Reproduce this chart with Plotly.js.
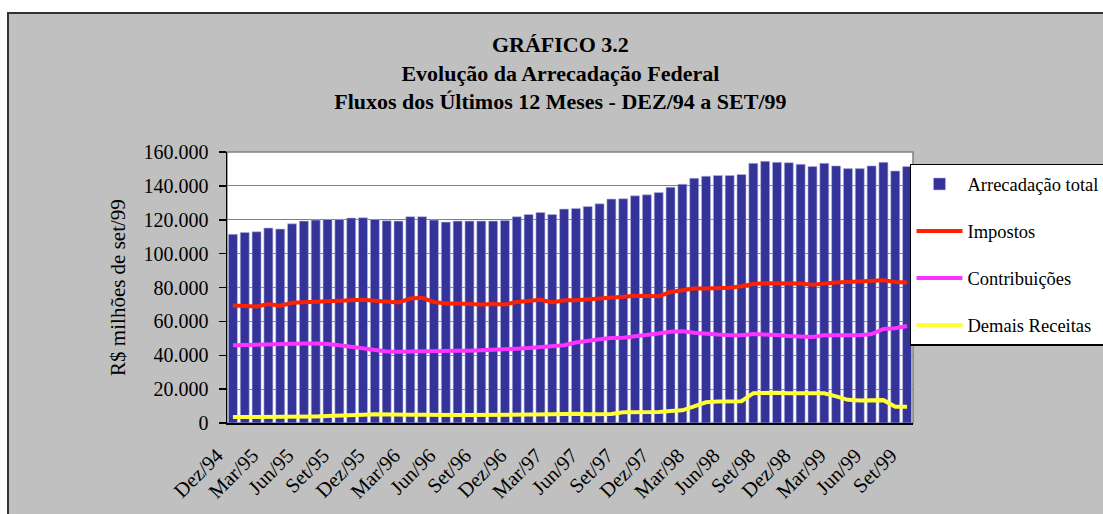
<!DOCTYPE html>
<html>
<head>
<meta charset="utf-8">
<script src="https://cdn.plot.ly/plotly-3.0.1.min.js"></script>
<style>
  html, body { margin: 0; padding: 0; background: #ffffff; overflow: hidden; }
  #frame {
    position: absolute; left: 7px; top: 12px;
    border-left: 2px solid #333333; border-top: 2px solid #333333;
  }
  #chart { width: 1094px; height: 500px; }
</style>
</head>
<body>
<div id="frame"><div id="chart"></div></div>
<script>
// Months, Dez/94 .. Set/99
const months = [
    'Dez/94',
    'Jan/95', 'Fev/95', 'Mar/95', 'Abr/95', 'Mai/95', 'Jun/95', 'Jul/95', 'Ago/95', 'Set/95', 'Out/95', 'Nov/95', 'Dez/95',
    'Jan/96', 'Fev/96', 'Mar/96', 'Abr/96', 'Mai/96', 'Jun/96', 'Jul/96', 'Ago/96', 'Set/96', 'Out/96', 'Nov/96', 'Dez/96',
    'Jan/97', 'Fev/97', 'Mar/97', 'Abr/97', 'Mai/97', 'Jun/97', 'Jul/97', 'Ago/97', 'Set/97', 'Out/97', 'Nov/97', 'Dez/97',
    'Jan/98', 'Fev/98', 'Mar/98', 'Abr/98', 'Mai/98', 'Jun/98', 'Jul/98', 'Ago/98', 'Set/98', 'Out/98', 'Nov/98', 'Dez/98',
    'Jan/99', 'Fev/99', 'Mar/99', 'Abr/99', 'Mai/99', 'Jun/99', 'Jul/99', 'Ago/99', 'Set/99'
];

// R$ milhões de set/99, 12-month flows
const arrecadacaoTotal = [
    111400, 112500, 112900, 115100, 114500, 117600, 119200, 119800, 120200, 120200,
    121000, 121200, 120200, 119400, 119200, 121800, 121800, 119800, 118600, 119200,
    119200, 119200, 119200, 119600, 121800, 123100, 124300, 123100, 126300, 126700,
    127800, 129400, 132200, 132400, 134100, 134700, 136100, 139200, 141000, 144500,
    145700, 146100, 146100, 146700, 153300, 154500, 153900, 153700, 152700, 151400,
    153300, 151800, 150200, 150200, 151800, 153900, 148800, 151400
];
const impostos = [
    69400, 69200, 68800, 70200, 69200, 71000, 71200, 71600, 72000, 72200,
    72500, 72700, 72200, 71800, 71200, 73500, 73900, 71400, 70600, 70600,
    70200, 70000, 70200, 70000, 71400, 72200, 72700, 71200, 72400, 72500,
    72900, 73700, 73900, 74500, 75100, 75100, 74900, 77300, 78600, 79400,
    79400, 79600, 79800, 80800, 82000, 82500, 82500, 82500, 82400, 81600,
    82500, 82900, 83300, 83700, 84100, 84300, 83300, 82900
];
const contribuicoes = [
    45900, 46100, 46300, 46700, 46900, 46900, 46900, 46900, 46700, 45900,
    44900, 43900, 43100, 42200, 42000, 42200, 42500, 42700, 42700, 42700,
    42700, 42900, 43300, 43700, 43900, 44300, 44700, 45300, 45900, 47500,
    48200, 49400, 50200, 50400, 51200, 51800, 52900, 53900, 54100, 53300,
    52500, 52200, 51800, 51800, 52500, 52500, 52000, 51400, 51000, 50800,
    51800, 51800, 51800, 51800, 52500, 55500, 55900, 57300
];
const demaisReceitas = [
    3500, 3500, 3500, 3500, 3500, 3500, 3700, 3900, 4100, 4500,
    4900, 4900, 5100, 4900, 4900, 4900, 4900, 4700, 4700, 4700,
    4700, 4700, 4700, 4700, 4700, 4700, 4900, 5100, 5300, 5500,
    5100, 5100, 5300, 6300, 6300, 6300, 6500, 7100, 7500, 9800,
    12200, 12700, 12900, 12900, 17600, 17800, 17800, 17600, 17600, 17600,
    17500, 15700, 13700, 13300, 13300, 13500, 9600, 9600
];

const yTicks = [0, 20000, 40000, 60000, 80000, 100000, 120000, 140000, 160000];

// every third month gets a label, tick marks sit on the boundaries
const labelIdx = months.map((m, i) => i).filter(i => i % 3 === 0);
const labelVals = labelIdx.map(i => months[i]);
const boundaryVals = labelIdx.map(i => i - 0.5);

const font = 'Liberation Serif, Times New Roman, serif';

const lineTrace = (name, y, color, group) => ({
    x: months, y: y,
    type: 'scatter',
    mode: 'lines',
    name: name,
    legendgroup: group,
    line: { color: color, width: 4 },
    hoverinfo: 'skip'
});

const traces = [
    {
        x: months, y: arrecadacaoTotal,
        type: 'bar',
        name: 'Arrecadação total',
        legendgroup: 'g1',
        marker: { color: '#333399', line: { color: '#b8b8e0', width: 0.6 } },
        hoverinfo: 'skip'
    },
    lineTrace('Impostos', impostos, '#ff2200', 'g2'),
    lineTrace('Contribuições', contribuicoes, '#ff33ff', 'g3'),
    lineTrace('Demais Receitas', demaisReceitas, '#ffff33', 'g4')
];

const layout = {
    width: 1094,
    height: 500,
    paper_bgcolor: '#c0c0c0',
    plot_bgcolor: '#ffffff',
    font: { family: font, color: '#000000', size: 20 },
    margin: { l: 218, r: 190, t: 138, b: 91, autoexpand: false },
    separators: ',.',
    bargap: 0.24,
    title: {
        text: '<b>GRÁFICO 3.2<br>Evolução da Arrecadação Federal<br>Fluxos dos Últimos 12 Meses - DEZ/94 a SET/99</b>',
        font: { family: font, size: 22, color: '#000000' },
        xref: 'container', x: 0.504, xanchor: 'center',
        yref: 'container', y: 0.924, yanchor: 'top'
    },
    xaxis: {
        type: 'category',
        range: [-0.5, 57.5],
        tickmode: 'array',
        tickvals: labelVals,
        ticktext: labelVals,
        tickangle: -45,
        ticks: '',
        ticklabelstandoff: 11,
        ticklabelshift: -16,
        tickfont: { family: font, size: 20.5 },
        showgrid: false,
        showline: true,
        linecolor: '#000000',
        linewidth: 1.5,
        fixedrange: true
    },
    xaxis2: {
        overlaying: 'x',
        anchor: 'y',
        side: 'bottom',
        range: [-0.5, 57.5],
        tickmode: 'array',
        tickvals: boundaryVals,
        ticks: 'outside',
        ticklen: 6,
        tickwidth: 1.5,
        tickcolor: '#000000',
        showticklabels: false,
        showgrid: false,
        showline: false,
        zeroline: false
    },
    yaxis: {
        range: [0, 160000],
        tickmode: 'array',
        tickvals: yTicks,
        tickformat: ',d',
        ticks: 'outside',
        ticklen: 7,
        tickwidth: 1.5,
        tickcolor: '#000000',
        ticklabelstandoff: 6,
        tickfont: { family: font, size: 20 },
        showgrid: true,
        gridcolor: '#808080',
        gridwidth: 1,
        zeroline: false,
        showline: true,
        linecolor: '#000000',
        linewidth: 1.5,
        title: {
            text: 'R$ milhões de set/99',
            font: { family: font, size: 21 },
            standoff: 12
        }
    },
    shapes: [{
        type: 'rect', xref: 'paper', yref: 'paper',
        x0: 0, x1: 1, y0: 0, y1: 1,
        line: { color: '#808080', width: 1.5 },
        layer: 'below'
    }],
    showlegend: true,
    legend: {
        x: 0.9956, xanchor: 'left',
        y: 0.956, yanchor: 'top',
        bgcolor: '#ffffff',
        bordercolor: '#000000',
        borderwidth: 1.5,
        font: { family: font, size: 18.5, color: '#000000' },
        traceorder: 'grouped',
        tracegroupgap: 20,
        itemwidth: 46,
        valign: 'middle'
    }
};

Plotly.newPlot('chart', traces, layout, { displayModeBar: false, staticPlot: true });
</script>
</body>
</html>
